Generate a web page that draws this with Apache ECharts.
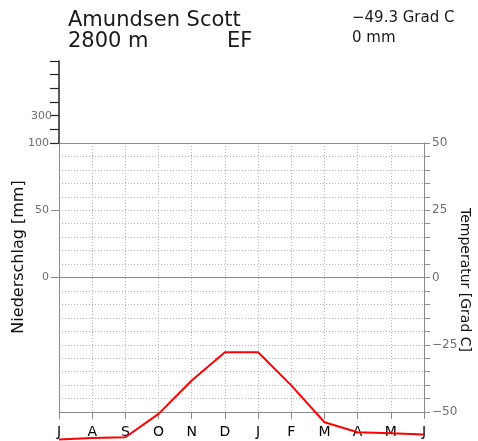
<!DOCTYPE html>
<html>
<head>
<meta charset="utf-8">
<script src="https://cdn.jsdelivr.net/npm/echarts@6/dist/echarts.min.js"></script>
<style>
  html, body { margin: 0; padding: 0; background: #fff; }
  #chart { width: 478px; height: 441px; }
</style>
</head>
<body>
<div id="chart"></div>
<script>
// Climate diagram (Walter-Lieth style), South Pole station, July to June
const months = ['J', 'A', 'S', 'O', 'N', 'D', 'J', 'F', 'M', 'A', 'M', 'J'];
const temperature = [-60.2, -59.7, -59.4, -50.7, -38.3, -27.8, -27.8, -40.1, -53.8, -57.5, -57.9, -58.4];
const precipitation = [0, 0, 0, 0, 0, 0, 0, 0, 0, 0, 0, 0];
const tempTicks = [50, 25, 0, -25, -50];
const precipTicks = [0, 50, 100];
const precipUpperTicks = [300];

const stationName = 'Amundsen Scott';
const altitude = '2800 m';
const climateClass = 'EF';
const meanTemp = '\u221249.3 Grad C';
const totalPrecip = '0 mm';

const AXIS_GRAY = '#8a8a8a';
const GRID_GRAY = '#b4b4b4';
const LABEL_GRAY = '#6e6e6e';
const FONT = 'DejaVu Sans';

const chart = echarts.init(document.getElementById('chart'), null, { renderer: 'canvas' });

const fmtMinus = v => (v < 0 ? '\u2212' + Math.abs(v) : String(v));

chart.setOption({
  animation: false,
  backgroundColor: '#ffffff',
  grid: [
    { left: 59, top: 143, width: 365, height: 269, containLabel: false },
    { left: 59, top: 61, width: 365, height: 82, containLabel: false }
  ],
  xAxis: [
    {
      gridIndex: 0,
      type: 'category',
      data: months,
      boundaryGap: false,
      position: 'bottom',
      axisLine: { onZero: false, lineStyle: { color: AXIS_GRAY, width: 1 } },
      axisTick: { show: true, length: 7, lineStyle: { color: AXIS_GRAY } },
      axisLabel: { color: '#000', fontFamily: FONT, fontSize: 14, margin: 13, interval: 0 },
      splitLine: { show: true, lineStyle: { color: GRID_GRAY, type: [1, 2], width: 1 } }
    },
    {
      gridIndex: 1,
      type: 'category',
      data: months,
      show: false
    }
  ],
  yAxis: [
    {
      // temperature, right side
      gridIndex: 0,
      type: 'value',
      position: 'right',
      min: -50,
      max: 50,
      interval: 5,
      axisLine: { show: true, onZero: false, lineStyle: { color: AXIS_GRAY, width: 1 } },
      axisTick: { show: true, length: 6, lineStyle: { color: AXIS_GRAY } },
      axisLabel: {
        color: LABEL_GRAY, fontFamily: FONT, fontSize: 12, margin: 8,
        customValues: tempTicks,
        formatter: v => fmtMinus(v)
      },
      splitLine: { show: true, lineStyle: { color: GRID_GRAY, type: [1, 2], width: 1 } }
    },
    {
      // precipitation, left side (0..100 mm in the lower scale)
      gridIndex: 0,
      type: 'value',
      position: 'left',
      min: -100,
      max: 100,
      interval: 50,
      axisLine: { show: true, onZero: false, lineStyle: { color: AXIS_GRAY, width: 1 } },
      axisTick: { show: true, length: 8, lineStyle: { color: AXIS_GRAY }, customValues: precipTicks },
      axisLabel: {
        color: LABEL_GRAY, fontFamily: FONT, fontSize: 11, margin: 10,
        customValues: precipTicks
      },
      splitLine: { show: false }
    },
    {
      // compressed precipitation scale above 100 mm
      gridIndex: 1,
      type: 'value',
      position: 'left',
      min: 100,
      max: 700,
      interval: 100,
      axisLine: { show: true, onZero: false, lineStyle: { color: '#222', width: 1.5 } },
      axisTick: { show: true, length: 9, lineStyle: { color: '#222', width: 1.2 } },
      axisLabel: {
        color: LABEL_GRAY, fontFamily: FONT, fontSize: 11, margin: 7,
        customValues: precipUpperTicks
      },
      splitLine: { show: false }
    }
  ],
  series: [
    {
      name: 'Niederschlag',
      type: 'line',
      xAxisIndex: 0,
      yAxisIndex: 1,
      data: precipitation,
      symbol: 'none',
      lineStyle: { color: AXIS_GRAY, width: 1 },
      z: 3
    },
    {
      name: 'Temperatur',
      type: 'line',
      xAxisIndex: 0,
      yAxisIndex: 0,
      data: temperature,
      symbol: 'none',
      clip: false,
      lineStyle: { color: '#ff0000', width: 2 },
      z: 5,
      markLine: {
        silent: true,
        symbol: 'none',
        label: { show: false },
        lineStyle: { color: AXIS_GRAY, type: 'solid', width: 1 },
        data: [{ yAxis: tempTicks[0] }]
      }
    }
  ],
  graphic: [
    { type: 'text', left: 68, top: 10, style: { text: stationName, font: '21px "DejaVu Sans"', fill: '#1a1a1a' } },
    { type: 'text', left: 68, top: 31, style: { text: altitude, font: '21px "DejaVu Sans"', fill: '#1a1a1a' } },
    { type: 'text', left: 227, top: 31, style: { text: climateClass, font: '21px "DejaVu Sans"', fill: '#1a1a1a' } },
    { type: 'text', left: 352, top: 11, style: { text: meanTemp, font: '15px "DejaVu Sans"', fill: '#1a1a1a' } },
    { type: 'text', left: 352, top: 31, style: { text: totalPrecip, font: '15px "DejaVu Sans"', fill: '#1a1a1a' } },
    {
      type: 'text', x: 19, y: 257, rotation: Math.PI / 2,
      style: { text: 'Niederschlag [mm]', font: '16px "DejaVu Sans"', fill: '#111', textAlign: 'center', textVerticalAlign: 'middle' }
    },
    {
      type: 'text', x: 465, y: 280, rotation: -Math.PI / 2,
      style: { text: 'Temperatur [Grad C]', font: '14px "DejaVu Sans"', fill: '#111', textAlign: 'center', textVerticalAlign: 'middle' }
    }
  ]
});
</script>
</body>
</html>
